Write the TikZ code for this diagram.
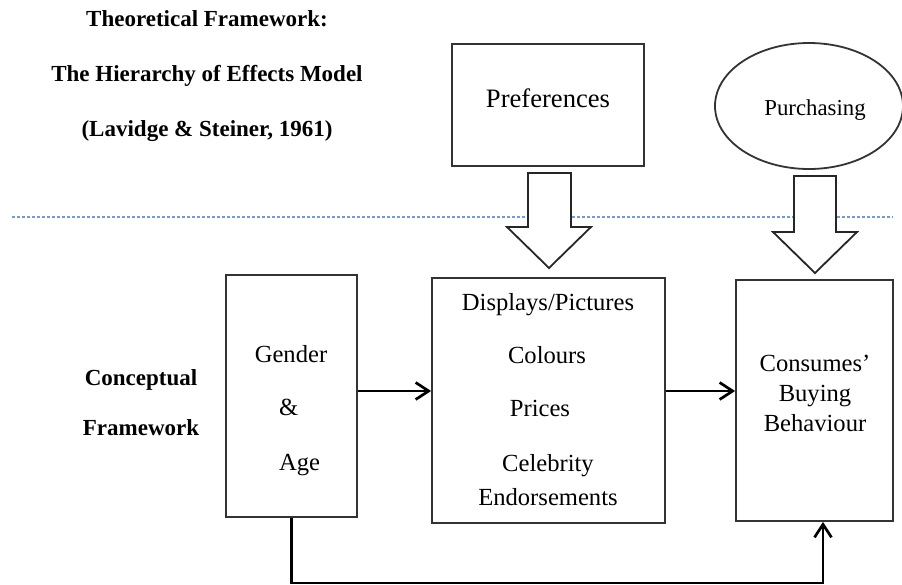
\documentclass[tikz,border=0pt]{standalone}
\usepackage{fontspec}
\setmainfont{Liberation Serif}
\usetikzlibrary{arrows.meta,shapes.geometric}
\definecolor{sepblue}{RGB}{120,155,200}

\begin{document}
\begin{tikzpicture}[x=0.5pt, y=-0.5pt,
  box/.style={draw=black!80, line width=0.9pt, inner sep=0pt},
  heading/.style={font=\fontsize{11.5}{14}\selectfont\bfseries, anchor=base},
  boxtext/.style={font=\fontsize{12.3}{15}\selectfont, anchor=base},
  link/.style={->, line width=1.35pt},
  bigarrow/.style={draw=black!85, line width=0.9pt, fill=white},
  >={Straight Barb[length=6.5pt,width=8.5pt]}]
\useasboundingbox (0,0) rectangle (902,585);

% Theoretical framework
\node[heading] (th1) at (207,26) {Theoretical Framework:};
\node[heading] (th2) at (207,81) {The Hierarchy of Effects Model};
\node[heading] (th3) at (207,136) {(Lavidge \& Steiner, 1961)};

\node[box, minimum width=96pt, minimum height=61pt] (pref) at (548,105) {};
\node[boxtext, font=\fontsize{13.3}{16}\selectfont] (preftxt) at (548,107) {Preferences};

\node[box, ellipse, minimum width=94pt, minimum height=63pt] (purch) at (809,106) {};
\node[boxtext, font=\fontsize{11.4}{14}\selectfont] (purchtxt) at (815,115) {Purchasing};

% Separator
\draw[sepblue, line width=0.8pt, dash pattern=on 1.5pt off 1pt] (12,217) -- (893,217);

% Block arrows
\draw[bigarrow] (528,173) -- (571,173) -- (571,227) -- (591,227) -- (549,268)
  -- (507,227) -- (528,227) -- cycle;
\draw[bigarrow] (794,176) -- (836,176) -- (836,232) -- (857,232) -- (815,273)
  -- (773,232) -- (794,232) -- cycle;

% Conceptual framework
\node[heading] (ch1) at (141,385) {Conceptual};
\node[heading] (ch2) at (141,435) {Framework};

\node[box, minimum width=65.5pt, minimum height=121pt] (gender) at (291.5,396) {};
\node[boxtext] (gtxt1) at (291,362) {Gender};
\node[boxtext, anchor=base west] (gtxt2) at (272,415) {\&};
\node[boxtext, anchor=base west] (gtxt3) at (272,470) {Age};

\node[box, minimum width=116.5pt, minimum height=122.5pt] (media) at (548.5,400.5) {};
\node[boxtext] (mtxt1) at (548,310) {Displays/Pictures};
\node[boxtext] (mtxt2) at (547,363) {Colours};
\node[boxtext] (mtxt3) at (540,416) {Prices};
\node[boxtext] (mtxt4) at (548,471) {Celebrity};
\node[boxtext] (mtxt5) at (548,505) {Endorsements};

\node[box, minimum width=78.5pt, minimum height=120.5pt] (consumer) at (814.5,400.5) {};
\node[boxtext] (ctxt1) at (815,371) {Consumes’};
\node[boxtext] (ctxt2) at (815,401) {Buying};
\node[boxtext] (ctxt3) at (815,431) {Behaviour};

% Connections
\coordinate (row) at (0,391);
\coordinate (loop) at (823,583);
\draw[link] (gender.east |- row) -- (media.west |- row);
\draw[link] (media.east |- row) -- (consumer.west |- row);
\draw[link] (gender.south) |- (loop) -- (loop |- consumer.south);

\end{tikzpicture}
\end{document}
